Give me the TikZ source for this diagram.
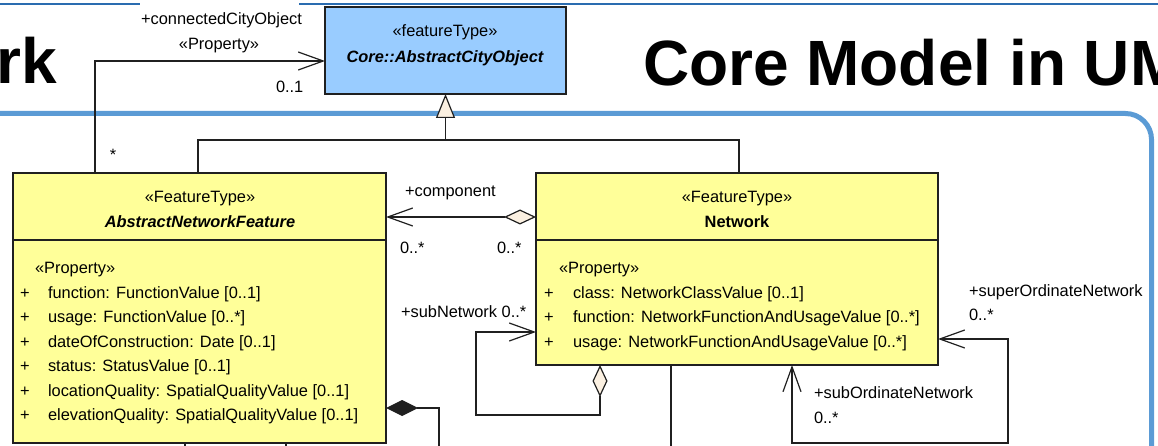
\documentclass[tikz,border=0pt]{standalone}
\usepackage{fontspec}
\setmainfont{Liberation Sans}
\usetikzlibrary{arrows.meta}
\definecolor{acofill}{HTML}{99CCFF}
\definecolor{clsfill}{HTML}{FFFF99}
\definecolor{cream}{HTML}{FBF0E1}
\definecolor{thinblue}{HTML}{2A6CB0}
\definecolor{thickblue}{HTML}{5B9BD5}
\definecolor{border}{HTML}{202020}
\begin{document}
\begin{tikzpicture}[x=1pt,y=-1pt,
  cls/.style={draw=border, line width=1.3pt, inner sep=0pt, outer sep=0pt},
  txt/.style={inner sep=0pt, outer sep=0pt, font=\fontsize{16.4}{19}\selectfont},
  ttl/.style={inner sep=0pt, outer sep=0pt, font=\fontsize{64}{70}\selectfont\bfseries},
  conn/.style={draw=border, line width=1.2pt},
  barb/.tip={Straight Barb[length=25pt,width=18pt]},
  hdia/.tip={Diamond[length=32pt,width=15pt,fill=cream]},
  fdia/.tip={Diamond[length=32pt,width=16pt]},
  gen/.tip={Triangle[length=24pt,width=19pt,fill=cream]}
]
\useasboundingbox (0,0) rectangle (1158,446);
\clip (0,0) rectangle (1158,446);

% slide decoration
\draw[thickblue, line width=5pt, rounded corners=26pt] (-5,113.5) -| (1151.5,470);
\draw[thinblue, line width=1.5pt] (-2,4) -- (140,4);
\draw[thinblue, line width=1.5pt] (299,4) -- (1162,4);
\node[ttl, anchor=base east] (ttlA) at (57,84) {Network};
\node[ttl, anchor=base west] (ttlB) at (643,86) {Core Model in UML};

% classes
\node[cls, fill=acofill, minimum width=241pt, minimum height=87pt] (aco) at (445.5,50.5) {};
\node[cls, fill=clsfill, minimum width=373pt, minimum height=270pt] (anf) at (199.5,308) {};
\node[cls, fill=clsfill, minimum width=402pt, minimum height=192pt] (net) at (737,269) {};
\draw[cls] (anf.west |- 0,240) -- (anf.east |- 0,240);
\draw[cls] (net.west |- 0,240) -- (net.east |- 0,240);

\node[txt, anchor=base] (acoS) at (445,37) {«featureType»};
\node[txt, anchor=base] (acoN) at (445,63) {\bfseries\itshape Core::AbstractCityObject};

\node[txt, anchor=base] (anfS) at (200,203) {«FeatureType»};
\node[txt, anchor=base] (anfN) at (200,228) {\bfseries\itshape AbstractNetworkFeature};
\node[txt, anchor=base west] (anfP) at (35,273) {«Property»};
\foreach \i/\t in {0/{function: FunctionValue [0..1]},
                   1/{usage: FunctionValue [0..*]},
                   2/{dateOfConstruction: Date [0..1]},
                   3/{status: StatusValue [0..1]},
                   4/{locationQuality: SpatialQualityValue [0..1]},
                   5/{elevationQuality: SpatialQualityValue [0..1]}}{
  \node[txt, anchor=base] (anfV\i) at (25,298+24.5*\i) {+};
  \node[txt, anchor=base west] (anfA\i) at (48,298+24.5*\i) {\t};
}

\node[txt, anchor=base] (netS) at (737,203) {«FeatureType»};
\node[txt, anchor=base] (netN) at (737,228) {\bfseries Network};
\node[txt, anchor=base west] (netP) at (559,273) {«Property»};
\foreach \i/\t in {0/{class: NetworkClassValue [0..1]},
                   1/{function: NetworkFunctionAndUsageValue [0..*]},
                   2/{usage: NetworkFunctionAndUsageValue [0..*]}}{
  \node[txt, anchor=base] (netV\i) at (549,298+24.5*\i) {+};
  \node[txt, anchor=base west] (netA\i) at (573,298+24.5*\i) {\t};
}

% free ends
\coordinate (bA) at (185,455);
\coordinate (bB) at (286,455);
\coordinate (bC) at (439,455);
\coordinate (bD) at (671,455);

% generalization
\draw[conn, -gen] (anf.north -| 198,0) |- (aco.south |- 0,140) -- (aco.south);
\draw[conn] (net.north -| 739,0) |- (aco.south |- 0,140);

% connectedCityObject
\draw[conn, -barb] (anf.north -| 95,0) |- (aco.west |- 0,61);
\node[txt, anchor=base west] (lCCO) at (141,25) {+connectedCityObject};
\node[txt, anchor=base] (lCCOp) at (219,50) {«Property»};
\node[txt, anchor=base west] (lCCOm) at (276,93) {0..1};
\node[txt, anchor=base] (lCCOs) at (113,160.5) {*};

% component
\draw[conn, hdia-barb] (net.west |- 0,217) -- (anf.east |- 0,217);
\node[txt, anchor=base west] (lComp) at (405,197) {+component};
\node[txt, anchor=base west] (lCompA) at (400,253) {0..*};
\node[txt, anchor=base west] (lCompB) at (497,253) {0..*};

% subNetwork
\draw[conn, hdia-barb] (net.south -| 600,0) -- (600,415) -| (476,332) -- (net.west |- 0,332);
\node[txt, anchor=base west] (lSub) at (401,317) {+subNetwork 0..*};

% super / subOrdinate
\draw[conn, barb-barb] (net.south -| 792,0) -- (792,443) -| (1008,339) -- (net.east |- 0,339);
\node[txt, anchor=base west] (lSup) at (969,296) {+superOrdinateNetwork};
\node[txt, anchor=base west] (lSupM) at (969,320) {0..*};
\node[txt, anchor=base west] (lSo) at (814,398) {+subOrdinateNetwork};
\node[txt, anchor=base west] (lSoM) at (814,423) {0..*};

% composition and lines leaving the view
\draw[conn, fdia-] (anf.east |- 0,408) -| (bC);
\draw[conn] (anf.south -| bA) -- (bA);
\draw[conn] (anf.south -| bB) -- (bB);
\draw[conn] (net.south -| bD) -- (bD);
\end{tikzpicture}
\end{document}
